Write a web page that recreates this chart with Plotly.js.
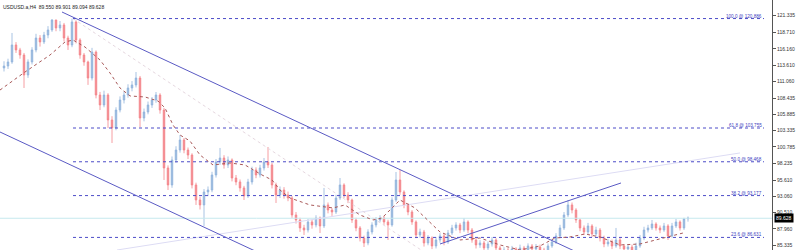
<!DOCTYPE html>
<html><head><meta charset="utf-8">
<script src="https://cdn.plot.ly/plotly-3.0.1.min.js"></script>
<style>html,body{margin:0;padding:0;background:#fff;} #chart{width:797px;height:250px;}</style>
</head><body><div id="chart"></div>
<script>
const symbolTitle = 'USDUSD.a,H4  89.550 89.901 89.094 89.628';

const openP = [113.15,113.46,114.09,116.75,115.97,115.18,112.05,114.09,115.97,117.84,
117.22,118.31,119.10,120.66,119.41,119.88,117.84,116.75,120.35,117.53,
115.18,114.09,111.58,115.65,108.92,107.36,108.92,105.01,103.76,106.57,
108.14,108.92,110.02,110.49,111.58,105.32,106.26,107.36,108.14,108.92,
106.57,97.50,94.84,98.75,100.31,101.88,100.31,99.53,94.84,92.49,
91.71,93.74,94.05,96.40,98.44,99.06,97.97,98.75,95.93,95.31,
94.37,93.12,95.31,97.18,96.40,97.50,98.44,97.97,94.84,93.27,
94.05,93.27,92.80,90.14,89.36,88.11,87.79,89.05,88.58,89.67,
88.42,91.71,90.92,90.61,92.80,94.84,93.27,92.49,89.36,88.11,
86.54,85.76,87.48,88.58,89.36,89.67,89.05,88.58,92.49,95.62,
93.74,91.71,90.61,89.05,87.01,87.48,85.76,86.54,85.29,86.23,
86.86,85.92,87.32,88.11,88.58,87.79,89.05,87.79,86.23,85.45,
85.76,84.98,85.60,86.23,84.98,84.35,84.66,84.19,84.82,84.35,
84.98,84.51,85.29,84.82,85.13,84.66,84.35,85.29,85.92,86.86,
88.11,90.14,91.71,90.92,89.36,88.11,87.48,88.42,87.17,87.79,
86.54,85.60,85.92,85.29,86.23,85.29,84.82,85.13,84.66,85.29,
86.54,87.79,88.11,88.73,88.11,87.79,88.42,86.86,88.42,89.05,
88.11,89.550];

const highP = [114.2,114.6,118.63,117.2,116.3,115.5,114.5,116.4,118.5,118.3,
118.8,119.7,120.8,120.7,120.5,120.2,118.2,120.886,120.6,117.8,
115.5,114.3,116.3,115.9,109.4,109.6,109.2,105.6,107.0,108.7,
109.5,110.6,111.1,112.52,111.9,106.8,107.9,108.6,109.39,109.2,
106.9,97.9,99.3,100.9,102.66,102.2,100.7,99.8,95.2,93.0,
94.2,94.6,96.9,98.9,100.63,99.5,99.3,99.0,96.4,95.7,
94.7,95.8,97.7,97.6,98.0,99.06,100.78,98.3,95.2,94.6,
94.5,93.8,93.1,90.6,89.7,88.6,89.5,89.4,90.1,89.9,
94.37,92.1,91.2,93.3,95.93,95.1,93.7,92.7,89.7,88.4,
86.9,87.9,89.0,89.8,90.1,90.0,89.4,92.9,96.87,97.18,
94.0,92.0,90.9,89.3,88.0,87.8,87.0,86.8,86.7,87.3,
87.2,87.8,88.6,89.0,88.9,89.67,89.3,88.1,86.6,86.2,
86.1,86.0,86.70,86.5,85.3,85.1,85.0,85.3,85.1,85.5,
85.3,85.7,85.6,85.6,85.5,85.0,85.7,86.4,87.3,88.6,
90.6,92.49,92.1,91.2,89.6,88.5,88.9,88.7,88.3,88.1,
86.9,86.4,86.3,88.11,86.6,85.6,85.6,85.5,85.8,87.0,
88.3,88.6,89.36,89.0,88.5,88.9,88.7,88.9,89.52,89.3,
89.7,89.901];

const lowP = [112.6,113.0,113.8,115.5,114.6,110.02,111.6,113.7,115.6,116.5,
116.9,117.8,118.8,118.9,118.9,117.3,115.97,116.4,117.0,114.6,
113.5,110.5,111.2,108.4,106.57,107.0,103.76,101.41,103.4,106.2,
107.6,108.5,109.5,110.1,103.9,104.8,105.9,106.9,107.7,106.0,
95.62,94.05,94.4,98.3,99.9,99.8,98.9,94.3,91.71,91.0,
88.42,93.1,93.7,96.0,98.0,97.4,97.5,95.4,94.8,93.8,
92.49,92.8,94.9,95.9,96.0,97.1,97.5,94.3,92.02,92.8,
92.7,92.3,89.7,88.8,87.5,87.01,87.4,88.0,88.2,87.32,
88.1,90.4,90.0,90.3,92.5,92.8,92.0,88.9,87.6,86.0,
85.13,85.4,87.1,88.2,89.0,88.6,86.23,88.3,92.2,93.3,
91.2,90.1,88.6,86.5,86.6,85.2,85.4,84.8,84.9,85.8,
85.4,85.6,87.0,87.7,87.3,87.5,87.3,85.8,84.9,85.0,
84.5,84.6,85.2,84.5,83.9,84.0,83.8,83.9,83.9,84.0,
84.1,84.2,84.4,84.5,84.2,83.9,84.0,85.0,85.6,86.5,
87.8,89.8,90.4,88.9,87.6,87.0,87.1,86.7,86.8,86.0,
85.1,85.2,84.8,85.0,84.8,84.3,84.4,84.2,84.3,85.0,
86.2,87.4,87.8,87.7,87.3,87.5,86.23,86.6,88.1,87.7,
87.8,89.094];

const closeP = [113.46,114.09,116.75,115.97,115.18,112.05,114.09,115.97,117.84,117.22,
118.31,119.10,120.66,119.41,119.88,117.84,116.75,120.35,117.53,115.18,
114.09,111.58,115.65,108.92,107.36,108.92,105.01,103.76,106.57,108.14,
108.92,110.02,110.49,111.58,105.32,106.26,107.36,108.14,108.92,106.57,
97.50,94.84,98.75,100.31,101.88,100.31,99.53,94.84,92.49,91.71,
93.74,94.05,96.40,98.44,99.06,97.97,98.75,95.93,95.31,94.37,
93.12,95.31,97.18,96.40,97.50,98.44,97.97,94.84,93.27,94.05,
93.27,92.80,90.14,89.36,88.11,87.79,89.05,88.58,89.67,88.42,
91.71,90.92,90.61,92.80,94.84,93.27,92.49,89.36,88.11,86.54,
85.76,87.48,88.58,89.36,89.67,89.05,88.58,92.49,95.62,93.74,
91.71,90.61,89.05,87.01,87.48,85.76,86.54,85.29,86.23,86.86,
85.92,87.32,88.11,88.58,87.79,89.05,87.79,86.23,85.45,85.76,
84.98,85.60,86.23,84.98,84.35,84.66,84.19,84.82,84.35,84.98,
84.51,85.29,84.82,85.13,84.66,84.35,85.29,85.92,86.86,88.11,
90.14,91.71,90.92,89.36,88.11,87.48,88.42,87.17,87.79,86.54,
85.60,85.92,85.29,86.23,85.29,84.82,85.13,84.66,85.29,86.54,
87.79,88.11,88.73,88.11,87.79,88.42,86.86,88.42,89.05,88.11,
89.55,89.628];

const barIndex = closeP.map((_, i) => i);

// moving average
const maIndex = [-1,5.25,11.5,15.25,17.25,20.25,24,26.5,29,31.5,35.25,38.5,40.25,42.25,44,46.5,49,52.25,56.5,60.25,64.5,67,69,71.5,76.5,82.25,85.25,89,92.25,94.5,97,99,102.75,109,114,119,124,129,134,137.75,141.5,145.25,149,154,159,164,169.75];
const maValue = [109.70,112.52,115.18,117.22,117.53,116.43,114.40,112.37,110.02,108.77,108.61,107.98,106.89,104.23,102.66,101.72,99.53,97.97,98.28,97.97,96.40,95.62,94.05,92.80,91.71,91.24,91.71,90.14,89.36,89.67,91.24,92.49,91.24,87.48,86.23,86.54,85.45,84.66,85.29,86.54,86.70,87.17,86.70,85.45,85.60,86.39,87.32];

// fibonacci levels
const fibLevels = ['100.0','61.8','50.0','38.2','23.6'];
const fibPrices = [120.886,103.755,98.468,93.177,86.631];
const fibFrom = 17.25, fibTo = 190;

// trend / channel lines anchors
const upperChannelX = [14.5, 145];
const upperChannelY = [121.91, 83.80];
const lowerChannelX = [-1, 63];
const lowerChannelY = [103.13, 84.44];
const midChannelX = [17.25, 106];
const midChannelY = [120.886, 83.94];
const risingLineX = [109, 154.25];
const risingLineY = [85.60, 95.15];
const faintLineX = [28.25, 184];
const faintLineY = [84.66, 99.85];
const lastPrice = 89.628;

const yTickVals = [121.335,118.710,116.160,113.610,111.060,108.435,105.885,103.335,100.785,98.235,95.610,93.060,90.510,87.960,85.335];
const yTickText = yTickVals.map(v => v.toFixed(3));

const lineBlue = '#5a5ac4';
const traces = [];

traces.push({type:'scatter', mode:'lines', x:[-1, 193], y:[lastPrice, lastPrice],
  line:{color:'#c6e9ee', width:1}, hoverinfo:'skip'});
traces.push({type:'scatter', mode:'lines', x:faintLineX, y:faintLineY,
  line:{color:'#dddcf4', width:1}, hoverinfo:'skip'});
traces.push({type:'scatter', mode:'lines', x:midChannelX, y:midChannelY,
  line:{color:'#e6d8e0', width:1, dash:'dot'}, hoverinfo:'skip'});
fibPrices.forEach(p => traces.push({type:'scatter', mode:'lines', x:[fibFrom, fibTo], y:[p, p],
  line:{color:'#4c4cc8', width:1, dash:'dot'}, hoverinfo:'skip'}));

traces.push({type:'candlestick', x:barIndex, open:openP, high:highP, low:lowP, close:closeP,
  whiskerwidth:0,
  increasing:{line:{color:'#92b4dc', width:0.8}, fillcolor:'#92b4dc'},
  decreasing:{line:{color:'#f4858a', width:0.8}, fillcolor:'#f4858a'},
  hoverinfo:'skip'});

traces.push({type:'scatter', mode:'lines', x:maIndex, y:maValue,
  line:{color:'#a85858', width:1, dash:'3px,3px'}, hoverinfo:'skip'});

traces.push({type:'scatter', mode:'lines', x:upperChannelX, y:upperChannelY,
  line:{color:lineBlue, width:1}, hoverinfo:'skip'});
traces.push({type:'scatter', mode:'lines', x:lowerChannelX, y:lowerChannelY,
  line:{color:lineBlue, width:1}, hoverinfo:'skip'});
traces.push({type:'scatter', mode:'lines', x:risingLineX, y:risingLineY,
  line:{color:lineBlue, width:1}, hoverinfo:'skip'});

const annotations = fibLevels.map((lv, k) => ({
  x: fibTo, y: fibPrices[k], xref:'x', yref:'y', xanchor:'right', yanchor:'bottom',
  text: lv + ' @ ' + fibPrices[k].toFixed(3), showarrow:false, yshift:-2,
  font:{family:'Liberation Sans, Arial, sans-serif', size:4.6, color:'#4040c0'}
}));
annotations.push({x:0, y:1, xref:'paper', yref:'paper', xanchor:'left', yanchor:'top',
  text:symbolTitle, showarrow:false, xshift:1, yshift:-2,
  font:{family:'Liberation Sans, Arial, sans-serif', size:5, color:'#222'}});
annotations.push({x:1, y:lastPrice, xref:'paper', yref:'y', xanchor:'left', yanchor:'middle',
  text:lastPrice.toFixed(3), showarrow:false, bgcolor:'#000', borderpad:1, xshift:2,
  font:{family:'Liberation Sans, Arial, sans-serif', size:5, color:'#fff'}});

const layout = {
  width:797, height:250,
  margin:{l:0, r:25, t:0, b:0, pad:0},
  paper_bgcolor:'#fff', plot_bgcolor:'#fff',
  showlegend:false, hovermode:false,
  boxgap:0.45,
  xaxis:{range:[-1,192], showgrid:false, zeroline:false, showticklabels:false,
    ticks:'', side:'top', showline:true, linecolor:'#a0a0a0', linewidth:1,
    rangeslider:{visible:false}, fixedrange:true},
  yaxis:{range:[84.66,123.79], side:'right', showgrid:false, zeroline:false,
    tickmode:'array', tickvals:yTickVals, ticktext:yTickText,
    ticks:'outside', ticklen:3, tickcolor:'#555', showline:true, linecolor:'#555', linewidth:1,
    tickfont:{family:'Liberation Sans, Arial, sans-serif', size:5, color:'#333'}, fixedrange:true},
  annotations: annotations
};

Plotly.newPlot('chart', traces, layout, {displayModeBar:false, staticPlot:true});
</script>
</body></html>
